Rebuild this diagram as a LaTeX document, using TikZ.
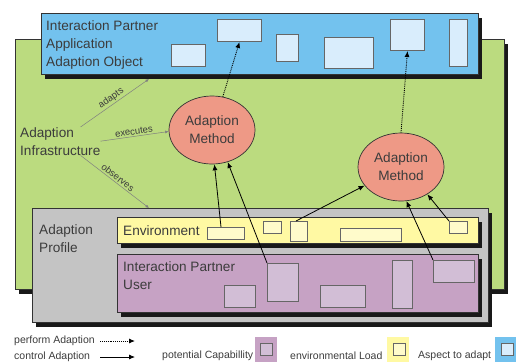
\documentclass[tikz,border=0pt]{standalone}
\usepackage{fontspec}
\setmainfont{Liberation Sans}
\usepackage{xcolor}
\usepackage{tikz}
\usetikzlibrary{arrows.meta,shapes.geometric,shadows}
\definecolor{infragreen}{HTML}{BBDB7F}
\definecolor{aspectblue}{HTML}{73C2EE}
\definecolor{aspectslot}{HTML}{D9EDFC}
\definecolor{profilegray}{HTML}{C4C4C4}
\definecolor{envyellow}{HTML}{FFF9A3}
\definecolor{envslot}{HTML}{FFFBCB}
\definecolor{userpurple}{HTML}{C6A2C4}
\definecolor{userslot}{HTML}{D2BED6}
\definecolor{methodred}{HTML}{EE9986}
\definecolor{textgray}{HTML}{3C3C3C}
\tikzset{
  panel/.style={draw=black!80, line width=0.8pt, anchor=north west, inner sep=0pt,
    drop shadow={fill=black!90, opacity=1, shadow xshift=3.5pt, shadow yshift=-4.5pt}},
  slot/.style={draw=black!60, line width=1pt, anchor=north west, inner sep=0pt},
  method/.style={ellipse, draw=black!80, line width=0.7pt, fill=methodred, minimum width=86pt,
    minimum height=68pt, inner sep=0pt, align=center, text=textgray},
  lbl/.style={anchor=north west, inner sep=0pt, align=left, text=textgray},
  legend/.style={anchor=west, inner sep=0pt, text=textgray, font=\fontsize{10.5}{12}\selectfont},
  perform/.style={densely dotted, line width=0.9pt, -{Latex[length=6pt,width=5pt]}},
  control/.style={line width=0.8pt, -{Latex[length=6pt,width=5pt]}},
  relation/.style={black!50, line width=0.5pt, -{Latex[length=3.5pt,width=3pt]}},
  rellabel/.style={midway, sloped, above, inner sep=1.5pt, text=textgray, font=\fontsize{9.5}{10}\selectfont},
}

\begin{document}
\begin{tikzpicture}[x=1pt, y=-1pt, font=\fontsize{13.6}{18}\selectfont]
  \useasboundingbox (0,0) rectangle (516,362);
  % panels
  \node[panel, fill=infragreen, minimum width=489pt, minimum height=250pt] (infrabox) at (15,39) {};
  \node[panel, fill=aspectblue, minimum width=437pt, minimum height=61pt] (aspectbox) at (41,13) {};
  \node[panel, fill=profilegray, minimum width=456pt, minimum height=114pt] (profilebox) at (32,208) {};
  \node[panel, fill=envyellow, minimum width=361pt, minimum height=26pt] (envbox) at (117,217) {};
  \node[panel, fill=userpurple, minimum width=361pt, minimum height=58pt] (userbox) at (117,254) {};

  % slots
  \foreach \n/\x/\y/\w/\h in {aspA/171/44/34/22, aspB/217/19/44/22, aspC/276/34/22/27,
      aspD/324/37/49/31, aspE/390/19/34/31, aspF/449/19/18/47}
    \node[slot, fill=aspectslot, minimum width=\w pt, minimum height=\h pt] (\n) at (\x,\y) {};
  \foreach \n/\x/\y/\w/\h in {envA/207/227/37/12, envB/263/221/18/12, envC/290/221/17/20,
      envD/340/228/61/13, envE/449/221/18/12}
    \node[slot, fill=envslot, minimum width=\w pt, minimum height=\h pt] (\n) at (\x,\y) {};
  \foreach \n/\x/\y/\w/\h in {upA/224/285/31/22, upB/267/263/31/38, upC/320/285/45/22,
      upD/392/260/20/48, upE/433/260/41/22}
    \node[slot, fill=userslot, minimum width=\w pt, minimum height=\h pt] (\n) at (\x,\y) {};

  % texts
  \node[lbl] (aspT) at (46,20.5) {Interaction Partner\\Application\\Adaption Object};
  \node[lbl] (infra) at (20,127) {Adaption\\Infrastructure};
  \node[lbl] (profT) at (39,224) {Adaption\\Profile};
  \node[lbl] (envT) at (123,225) {Environment};
  \node[lbl] (userT) at (123,261.5) {Interaction Partner\\User};

  % methods
  \node[method] (lm) at (212,130) {Adaption\\Method};
  \node[method] (rm) at (401,167) {Adaption\\Method};

  % infrastructure relations
  \coordinate (adaptsEnd) at (149,79);
  \coordinate (observesEnd) at (149,208);
  \draw[relation] ([xshift=-20pt]infra.north east) -- (adaptsEnd) node[rellabel] {adapts};
  \draw[relation] (infra.east) -- (lm.182) node[rellabel] {executes};
  \draw[relation] ([xshift=-20pt]infra.south east) -- (observesEnd) node[rellabel] {observes};

  % perform adaption
  \draw[perform] (lm.72) -- (aspB.south);
  \draw[perform] (rm.north) -- (aspE.south);

  % control adaption
  \draw[control] ([xshift=-5pt]envA.north) -- (lm.-86);
  \draw[control] (upB.north west) -- (lm.-64);
  \draw[control] ([xshift=-3pt]envC.north) -- (rm.207);
  \draw[control] (upE.north west) -- (rm.-81);
  \draw[control] (envE.north west) -- (rm.-46);

  % legend
  \node[legend] (perfT) at (14,341) {perform Adaption};
  \node[legend] (ctrlT) at (14,357) {control Adaption};
  \coordinate (perfA) at (100,341); \coordinate (perfB) at (135,341);
  \coordinate (ctrlA) at (100,357); \coordinate (ctrlB) at (135,357);
  \draw[perform] (perfA) -- (perfB);
  \draw[control] (ctrlA) -- (ctrlB);
  \node[legend] (capT) at (162,356) {potential Capabillity};
  \node[anchor=north west, fill=userpurple, minimum width=22pt, minimum height=25pt, inner sep=0pt] (capS) at (255,337) {};
  \node[slot, fill=userslot, minimum width=12pt, minimum height=12pt] (capI) at (260,343) {};
  \node[legend] (loadT) at (290,356) {environmental Load};
  \node[anchor=north west, fill=envyellow, minimum width=22pt, minimum height=25pt, inner sep=0pt] (loadS) at (387,337) {};
  \node[slot, fill=envslot, minimum width=12pt, minimum height=12pt] (loadI) at (393,343) {};
  \node[legend] (aspL) at (418,356) {Aspect to adapt};
  \node[anchor=north west, fill=aspectblue, minimum width=21pt, minimum height=25pt, inner sep=0pt] (aspS) at (495,337) {};
  \node[slot, fill=aspectslot, minimum width=12pt, minimum height=12pt] (aspI) at (501,343) {};
\end{tikzpicture}
\end{document}
